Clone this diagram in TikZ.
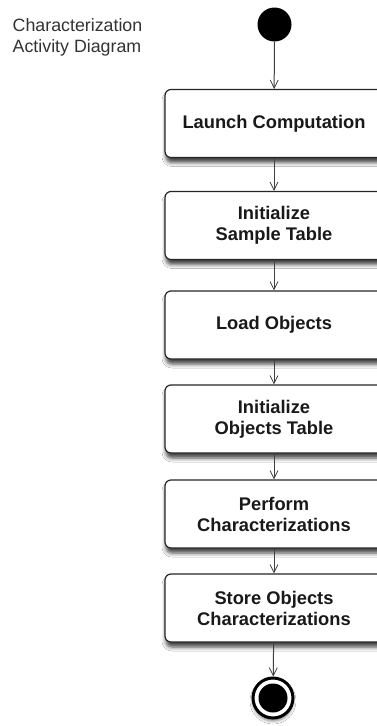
\documentclass[tikz,border=0pt]{standalone}
\usepackage{fontspec}
\setmainfont{Liberation Sans}
\usetikzlibrary{arrows.meta,shadows.blur}
\tikzset{
  act/.style={draw=black!85, line width=1.2pt, rounded corners=6pt, fill=white,
    minimum width=218pt, minimum height=68pt, align=center,
    font=\fontsize{18.3}{21}\selectfont\bfseries, text=black!90,
    blur shadow={shadow xshift=1pt, shadow yshift=-5pt, shadow blur radius=4pt, shadow opacity=75}},
  flow/.style={draw=black!75, line width=1pt, -{Straight Barb[length=8pt,width=8pt,line width=0.8pt]}},
  title/.style={align=left, anchor=north west, inner sep=0pt,
    font=\fontsize{17.8}{21}\selectfont, text=black!80}
}
\begin{document}
\begin{tikzpicture}[x=1pt,y=-1pt]
\clip (0,0) rectangle (377,726);
\fill[white] (0,0) rectangle (377,726);
\node[title] (ttl) at (12.5,18.5) {Characterization\\Activity Diagram};
\node[circle, fill=black, minimum size=34pt, inner sep=0pt] (start) at (274.5,24.5) {};
\node[act] (b1) at (274,123.5) {Launch Computation};
\node[act] (b2) at (274,225.5) {Initialize\\Sample Table};
\node[act] (b3) at (274,325) {Load Objects};
\node[act] (b4) at (274,419) {Initialize\\Objects Table};
\node[act] (b5) at (274,514) {Perform\\Characterizations};
\node[act] (b6) at (274,608) {Store Objects\\Characterizations};
\node[circle, draw=black, line width=3pt, fill=white, minimum size=40pt, inner sep=0pt,
  blur shadow={shadow xshift=0pt, shadow yshift=-3pt, shadow blur radius=3pt, shadow opacity=50}] (end) at (273,698) {};
\node[circle, fill=black, minimum size=29pt, inner sep=0pt] (endin) at (end.center) {};
\draw[flow] (start) -- (b1);
\draw[flow] (b1) -- (b2);
\draw[flow] (b2) -- (b3);
\draw[flow] (b3) -- (b4);
\draw[flow] (b4) -- (b5);
\draw[flow] (b5) -- (b6);
\draw[flow] (b6) -- (end);
\end{tikzpicture}
\end{document}
